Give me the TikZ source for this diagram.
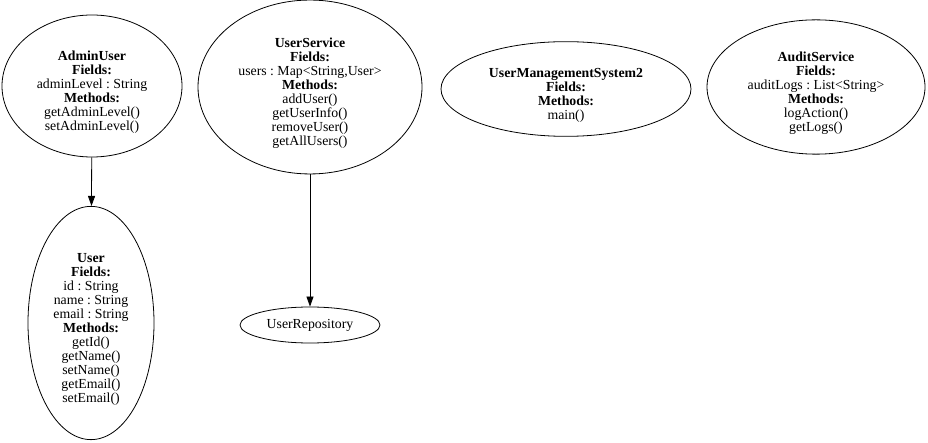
\documentclass[tikz,border=0pt]{standalone}
\usepackage{fontspec}
\setmainfont{Liberation Serif}
\usetikzlibrary{shapes.geometric,arrows.meta}

\newcommand{\pad}{\rule{0pt}{22pt}}

\begin{document}
\begin{tikzpicture}[x=1pt,y=-1pt, line width=0.8pt,
		cls/.style={draw, ellipse, inner sep=0pt, align=center, font=\fontsize{13.8}{14}\selectfont\frenchspacing},
		dep/.style={-{Triangle[length=10pt,width=7pt]}}]
		\useasboundingbox (0,0) rectangle (928,443);

		\node[cls, minimum width=180pt, minimum height=142pt] (admin) at (92,86) {\pad\textbf{AdminUser}\\\textbf{Fields:}\\adminLevel : String\\\textbf{Methods:}\\getAdminLevel()\\setAdminLevel()};
		\node[cls, minimum width=126pt, minimum height=230pt] (user) at (91,323) {\pad\textbf{User}\\\textbf{Fields:}\\id : String\\name : String\\email : String\\\textbf{Methods:}\\getId()\\getName()\\setName()\\getEmail()\\setEmail()};
		\node[cls, minimum width=224pt, minimum height=172pt] (service) at (310,87) {\pad\textbf{UserService}\\\textbf{Fields:}\\users : Map<String,User>\\\textbf{Methods:}\\addUser()\\getUserInfo()\\removeUser()\\getAllUsers()};
		\node[cls, minimum width=140pt, minimum height=36pt] (repo) at (310,325) {UserRepository};
		\node[cls, minimum width=250pt, minimum height=92pt] (system) at (566,89) {\pad\textbf{UserManagementSystem2}\\\textbf{Fields:}\\\textbf{Methods:}\\main()};
		\node[cls, minimum width=218pt, minimum height=134pt] (audit) at (816,87) {\pad\textbf{AuditService}\\\textbf{Fields:}\\auditLogs : List<String>\\\textbf{Methods:}\\logAction()\\getLogs()};

		\draw[dep] (admin) -- (user);
		\draw[dep] (service) -- (repo);
	\end{tikzpicture}
\end{document}
